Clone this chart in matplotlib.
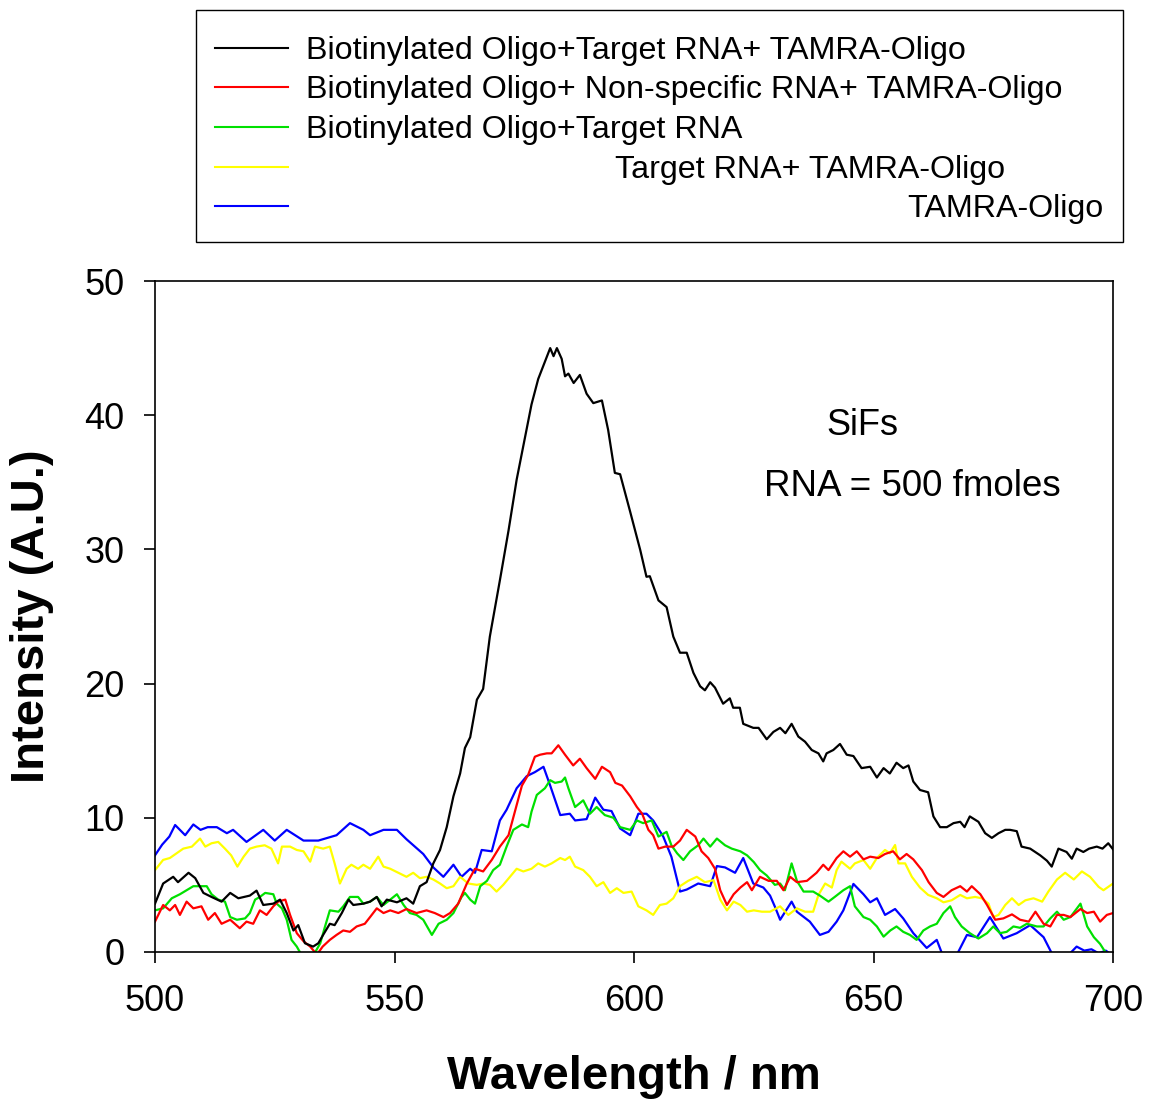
import numpy as np
import matplotlib.pyplot as plt
from matplotlib.lines import Line2D
from matplotlib.patches import Rectangle

plt.rcParams['font.family'] = ['Liberation Sans', 'DejaVu Sans']

# Biotinylated Oligo+Target RNA+ TAMRA-Oligo (black)
bk_x = [500, 501.7, 503.8, 504.8, 507, 508.4, 510.1, 511.8, 513.9, 515.7, 517.4, 519.8, 521.2, 522.6,
        524.7, 526.1, 527.5, 528.9, 529.9, 531.3, 533, 534.1, 535.1, 536.5, 537.5, 539, 540.4, 541.4,
        543.5, 544.9, 546.3, 547.3, 548.4, 550.5, 552.5, 553.9, 555.3, 556.7, 558.1, 559.5, 560.9,
        562.3, 563.7, 564.7, 565.8, 567.2, 568.5, 569.9, 572, 573.8, 575.5, 576.6, 578.6, 580, 581.4,
        582.5, 583.2, 583.9, 584.9, 585.6, 586.3, 587.4, 588.7, 590.1, 591.5, 593.3, 594.6, 596, 597.1,
        599.2, 601.3, 602.6, 603.3, 605.1, 606.8, 608.2, 609.6, 611, 612.4, 613.8, 614.8, 615.9, 616.9,
        618.6, 620, 620.7, 622.1, 622.8, 624.9, 626, 627.7, 629.1, 630.5, 631.6, 632.9, 634.3, 635.7,
        637.1, 638.5, 639.5, 640.2, 641.6, 643, 644.4, 645.8, 647.5, 649.3, 650.7, 652.1, 653.4, 654.8,
        656.2, 657.3, 658.3, 659.7, 661.4, 662.5, 663.9, 665.3, 666.7, 668.1, 669, 670.1, 671.9, 673.3,
        674.7, 676.1, 677.5, 678.5, 679.9, 680.9, 682.7, 684.8, 686.2, 687.2, 688.6, 690.3, 691.4,
        692.4, 693.8, 695, 696.6, 697.8, 699, 700]
bk_y = [3.6, 5.1, 5.6, 5.2, 5.9, 5.5, 4.4, 4.1, 3.75, 4.4, 4.0, 4.2, 4.57, 3.5,
        3.6, 3.9, 2.9, 1.6, 2.0, 0.65, 0.4, 0.65, 1.27, 2.1, 2.0, 2.9, 3.9, 3.5,
        3.6, 3.75, 4.1, 3.4, 3.9, 3.7, 4.0, 3.6, 4.9, 5.2, 6.6, 7.6, 9.3,
        11.6, 13.3, 15.2, 16.0, 18.8, 19.6, 23.5, 27.7, 31.4, 35.2, 37.2, 40.8, 42.7, 44.0,
        45.0, 44.4, 45.0, 44.2, 42.9, 43.1, 42.4, 43.0, 41.6, 40.9, 41.1, 38.9, 35.7, 35.6,
        32.8, 29.95, 27.96, 28.0, 26.2, 25.7, 23.5, 22.3, 22.3, 20.8, 19.8, 19.5, 20.1, 19.7,
        18.5, 18.9, 18.2, 18.2, 17.0, 16.7, 16.7, 15.85, 16.4, 16.7, 16.3, 17.0, 16.05, 15.67,
        15.05, 14.8, 14.2, 14.8, 15.05, 15.5, 14.7, 14.6, 13.7, 13.8, 13.0, 13.7, 13.3, 14.1,
        13.7, 13.9, 12.7, 12.07, 11.9, 10.1, 9.3, 9.3, 9.6, 9.7, 9.3, 10.1, 9.7, 8.85,
        8.5, 8.85, 9.1, 9.1, 9.0, 7.85, 7.7, 7.2, 6.8, 6.36, 7.7, 7.45, 6.95,
        7.7, 7.45, 7.7, 7.85, 7.7, 8.1, 7.65]

# Biotinylated Oligo+ Non-specific RNA+ TAMRA-Oligo (red)
rd_x = [500, 501.7, 503.1, 504.2, 505.2, 506.6, 508, 509.7, 511.1, 512.5, 513.9, 515.7, 517.7, 519.1,
        520.5, 521.9, 523.3, 524.7, 525.7, 527.2, 528.2, 529.6, 531, 532.4, 533.8, 535, 536.5, 537.9,
        539.3, 540.7, 542.1, 543.8, 544.9, 546.3, 547.7, 549.1, 550.8, 552.5, 554.6, 556.7, 558.4,
        560.2, 561.6, 563.3, 565.1, 566.8, 568.5, 570.3, 572, 573.8, 575.5, 576.6, 577.9, 579.3,
        580.4, 581.8, 582.8, 584.2, 585.6, 587.3, 588.7, 590.1, 591.9, 593.3, 595, 596.1, 597.5,
        599.2, 600.6, 601.7, 603, 604, 605.1, 606.5, 608.2, 609.6, 611, 612.8, 614.1, 615.5, 616.9,
        618, 619.4, 620.8, 622.2, 623.6, 624.6, 626.3, 628.1, 629.8, 631.2, 632.6, 634, 636.1, 638.1,
        639.5, 640.6, 642.3, 643.7, 645.1, 646.5, 647.9, 649.3, 651, 652.4, 654.1, 655.5, 656.9,
        658.3, 660.1, 661.5, 663.2, 664.6, 666.3, 668.1, 669.5, 670.5, 672.3, 673.7, 675.4, 677.1,
        678.9, 680.6, 682.4, 683.8, 685.5, 686.9, 688.3, 689.7, 691.1, 693.2, 694.6, 696, 697.3,
        698.7, 700]
rd_y = [2.26, 3.5, 3.1, 3.5, 2.76, 3.75, 3.25, 3.4, 2.4, 2.9, 2.1, 2.4, 1.77, 2.26,
        2.1, 3.1, 2.76, 3.4, 3.75, 3.9, 2.76, 1.4, 0.8, 0.4, -0.2, 0.4, 0.9, 1.27,
        1.6, 1.5, 1.9, 2.1, 2.6, 3.25, 2.9, 3.1, 2.9, 3.2, 2.9, 3.1, 2.9,
        2.6, 2.9, 3.6, 5.1, 6.2, 6.0, 6.86, 7.85, 8.7, 10.95, 12.4, 13.2, 14.55,
        14.7, 14.8, 14.8, 15.4, 14.7, 13.9, 14.4, 13.7, 12.9, 13.8, 13.4, 12.6, 12.4,
        11.6, 10.8, 10.3, 9.1, 8.7, 7.7, 7.85, 7.85, 8.3, 9.1, 8.6, 7.5, 7.0, 6.2,
        4.6, 3.5, 4.3, 4.8, 5.2, 4.6, 5.6, 5.3, 5.3, 4.6, 5.6, 5.2, 5.3, 5.9,
        6.5, 6.1, 7.0, 7.5, 7.1, 7.5, 6.9, 7.1, 7.0, 7.3, 7.5, 6.9, 7.3,
        6.9, 6.1, 5.2, 4.4, 4.1, 4.6, 4.9, 4.5, 4.9, 4.3, 3.5, 2.4, 2.5,
        2.8, 2.4, 2.26, 3.0, 2.1, 1.9, 2.76, 2.76, 2.6, 3.2, 2.9, 3.0, 2.26,
        2.76, 2.9]

# Biotinylated Oligo+Target RNA (green)
gr_x = [500, 501.7, 503.5, 505.2, 506.6, 508, 509.4, 510.8, 511.8, 513.2, 514.6, 515.7, 517.1, 518.8,
        519.8, 520.9, 521.9, 523, 524.7, 525.4, 526.5, 527.5, 528.5, 529.6, 530.7, 533, 534.5, 535.5,
        536.5, 538.3, 539.3, 540.7, 542.4, 543.5, 544.9, 546.3, 547.7, 549.1, 550.5, 551.9, 553.2,
        554.6, 556, 557.8, 559.2, 560.9, 562.3, 564, 564.7, 565.8, 566.8, 567.9, 569.3, 570.6, 572,
        573.4, 574.8, 576.6, 577.9, 578.6, 579.7, 581.4, 582.5, 583.5, 584.9, 585.6, 586.3, 587.7,
        589.4, 590.8, 592.2, 593.9, 595.7, 597.1, 599.2, 600.6, 601.9, 603.7, 605.1, 606.8, 607.8,
        609, 610.3, 611.7, 613.4, 614.5, 615.9, 617.3, 619, 620.4, 622.2, 623.6, 625, 626.3, 627.7,
        629.4, 630.5, 631.5, 632.9, 634, 635.4, 637.4, 638.8, 640.6, 641.9, 643.7, 645.1, 646.1,
        647.9, 649.3, 650.7, 652.1, 653.5, 654.8, 656.2, 657.6, 659, 660.4, 661.8, 663.2, 664.6, 666,
        667, 668.4, 670.1, 671.9, 673.7, 675, 676.4, 677.8, 679.2, 680.6, 682, 684.1, 685.5, 686.9,
        688.3, 689.7, 691.1, 693.2, 694.6, 696, 697.3, 698.1, 699, 700]
gr_y = [3.1, 3.25, 4.0, 4.3, 4.6, 4.9, 4.9, 4.9, 4.3, 3.9, 3.75, 2.6, 2.4, 2.5,
        2.9, 3.9, 4.1, 4.4, 4.3, 3.6, 3.25, 2.4, 0.9, 0.4, -0.3, -0.3, 0.65, 1.9,
        3.1, 3.0, 3.4, 4.1, 4.1, 3.6, 3.75, 4.1, 3.5, 3.9, 4.3, 3.5, 2.9,
        2.76, 2.4, 1.27, 2.1, 2.4, 2.9, 4.1, 4.4, 3.9, 3.6, 4.9, 5.3, 6.1, 6.5,
        7.85, 9.1, 9.5, 9.3, 10.45, 11.7, 12.2, 12.8, 12.6, 12.7, 13.0, 12.2, 10.8,
        11.3, 10.3, 10.8, 10.2, 10.0, 9.3, 9.1, 9.8, 9.6, 9.8, 8.6, 8.95, 7.95,
        7.35, 6.85, 7.5, 7.95, 8.45, 7.85, 8.45, 7.95, 7.7, 7.5, 7.2, 6.7, 6.1, 5.7,
        5.0, 5.1, 4.6, 6.6, 5.3, 4.5, 4.5, 4.2, 3.75, 4.1, 4.6, 4.9, 3.4,
        2.6, 2.4, 1.9, 1.14, 1.6, 1.9, 1.5, 1.27, 0.9, 1.6, 1.9, 2.1, 2.9, 3.4,
        2.6, 1.9, 1.4, 1.0, 1.4, 1.9, 1.4, 1.5, 1.9, 1.8, 2.1, 1.9, 1.9, 2.5,
        3.0, 2.4, 2.6, 3.6, 1.9, 1.1, 0.6, 0.15, -0.3, -0.3]

# Target RNA+ TAMRA-Oligo (yellow)
yl_x = [500, 501.7, 503.1, 504.5, 505.9, 507.7, 509.4, 510.5, 511.8, 513.2, 514.6, 515.9, 517.2, 518.5,
        519.8, 521.2, 522.9, 524.3, 525.7, 526.5, 528.2, 529.6, 531, 532.4, 533.4, 535.1, 536.5,
        537.5, 538.6, 540, 541, 542.4, 543.5, 544.9, 546.6, 547.7, 549.1, 550.8, 552.5, 553.9, 555.3,
        556.7, 558.1, 559.5, 560.9, 562.3, 563.7, 565.4, 567.2, 568.5, 569.9, 571.3, 572.7, 574.1,
        575.5, 576.9, 578.6, 580, 581.4, 582.8, 584.6, 585.6, 586.6, 587.7, 589.4, 590.8, 592.2,
        593.6, 595, 596.4, 597.8, 599.5, 600.9, 602.6, 604, 605.4, 606.8, 608.2, 609.6, 611.3, 613.1,
        614.8, 616.6, 618, 619.4, 620.8, 622.2, 623.6, 625, 626.7, 628.4, 630.5, 632.2, 634, 635.7,
        637.4, 638.5, 639.9, 641.3, 642.3, 643.3, 645.1, 646.1, 647.9, 649.3, 650.7, 652.4, 653.4,
        654.5, 655.2, 656.6, 658, 659.7, 661.4, 663.2, 664.6, 666.3, 668.1, 669.5, 671.2, 672.6, 674,
        675, 676.1, 677.5, 678.9, 680.3, 681.7, 683.4, 685.2, 686.5, 688.3, 690, 691.8, 693.5, 695.2,
        697, 698, 700]
yl_y = [6.1, 6.86, 7.0, 7.35, 7.7, 7.85, 8.45, 7.85, 8.1, 8.2, 7.7, 7.2, 6.36, 7.1,
        7.7, 7.85, 7.95, 7.7, 6.6, 7.85, 7.85, 7.6, 7.5, 6.73, 7.85, 7.7, 7.85,
        6.6, 5.1, 6.2, 6.5, 6.2, 6.5, 6.2, 7.1, 6.36, 6.2, 5.9, 5.6, 5.9, 5.5,
        5.6, 5.4, 5.1, 4.75, 4.9, 5.6, 5.1, 5.0, 5.1, 5.0, 4.5, 5.0, 5.6,
        6.2, 6.0, 6.2, 6.6, 6.36, 6.6, 7.0, 6.85, 7.1, 6.36, 6.1, 5.6, 4.9,
        5.2, 4.4, 4.75, 4.4, 4.5, 3.4, 3.1, 2.76, 3.5, 3.6, 4.0, 4.9, 5.3, 5.6,
        5.2, 5.35, 3.9, 3.1, 3.75, 3.5, 3.0, 3.1, 3.0, 3.0, 3.4, 2.76, 3.25, 3.0,
        3.0, 4.25, 5.1, 4.8, 6.1, 6.73, 6.2, 6.6, 6.85, 6.2, 7.0, 7.6, 7.35,
        7.97, 6.6, 6.6, 5.6, 4.8, 4.25, 4.0, 3.7, 3.85, 4.25, 4.0, 4.1, 4.0, 3.6,
        2.6, 2.76, 3.5, 4.0, 3.5, 3.85, 4.0, 3.75, 4.5, 5.4, 5.9, 5.4, 6.0, 5.6,
        4.85, 4.6, 5.1]

# TAMRA-Oligo (blue)
bl_x = [500, 501.5, 503, 504.2, 506.3, 508, 509.5, 511, 512.9, 515, 516.3, 519.1, 522.6, 525, 527.5,
        531, 534.1, 537.9, 540.7, 543.5, 544.9, 547.7, 550.5, 552.5, 556, 558.1, 560.2, 562.3, 564,
        565.8, 566.8, 568.2, 570.3, 572, 573.4, 575.5, 577.6, 579.3, 581.1, 582.5, 584.6, 586.6,
        587.7, 590.1, 591.9, 593.6, 595.3, 597.1, 599.2, 600.9, 602.6, 604, 606.1, 607.8, 609.6, 611,
        613.4, 615.9, 617.3, 619, 621.1, 622.8, 624.9, 627, 628.4, 629.5, 630.5, 632.9, 634, 636.7,
        638.8, 640.6, 642.3, 643.7, 645.8, 647.9, 649.3, 650.7, 652.4, 654.5, 656.2, 658.3, 661.1,
        663.2, 664.5, 667.4, 669.5, 671.6, 674.3, 677.1, 679.9, 682.7, 685.5, 687.5, 690.5, 692.4,
        694, 695.5, 697, 698.5, 700]
bl_y = [7.2, 8.0, 8.6, 9.46, 8.7, 9.5, 9.1, 9.3, 9.3, 8.85, 9.1, 8.2, 9.1, 8.3, 9.1,
        8.3, 8.3, 8.7, 9.6, 9.1, 8.7, 9.1, 9.1, 8.4, 7.3, 6.3, 5.6, 6.5, 5.6,
        6.2, 5.9, 7.6, 7.5, 9.8, 10.6, 12.2, 13.1, 13.4, 13.8, 12.4, 10.2, 10.3,
        9.8, 9.9, 11.5, 10.6, 10.5, 9.2, 8.7, 10.3, 10.3, 9.8, 8.6, 7.1, 4.5, 4.65,
        5.1, 4.9, 6.4, 6.3, 5.9, 7.0, 5.1, 4.8, 4.2, 3.3, 2.4, 3.75, 3.0, 2.26,
        1.27, 1.5, 2.26, 3.1, 5.07, 4.3, 3.7, 4.0, 2.76, 3.2, 2.5, 1.4, 0.3,
        0.9, -0.3, -0.2, 1.27, 1.1, 2.6, 1.0, 1.4, 2.0, 1.1, -0.3, -0.3, 0.4,
        0.1, 0.2, -0.1, 0.1, -0.3]

labels = ['Biotinylated Oligo+Target RNA+ TAMRA-Oligo',
          'Biotinylated Oligo+ Non-specific RNA+ TAMRA-Oligo',
          'Biotinylated Oligo+Target RNA',
          'Target RNA+ TAMRA-Oligo',
          'TAMRA-Oligo']
colors = ['#000000', '#ff0000', '#00e000', '#ffff00', '#0000ff']

fig = plt.figure(figsize=(11.49, 10.99), dpi=100)
ax = fig.add_axes([0.1349, 0.1338, 0.8338, 0.6105])

series = [(bk_x, bk_y), (rd_x, rd_y), (gr_x, gr_y), (yl_x, yl_y), (bl_x, bl_y)]
# draw back to front like the original (black on top)
for (x, y), c in list(zip(series, colors))[::-1]:
    ax.plot(x, y, color=c, lw=1.6)

ax.set_xlim(500, 700)
ax.set_ylim(0, 50)
ax.set_xticks([500, 550, 600, 650, 700])
ax.set_yticks([0, 10, 20, 30, 40, 50])
ax.tick_params(direction='out', length=8, width=1.2, labelsize=26, top=False, right=False)
ax.tick_params(axis='x', pad=15)
ax.tick_params(axis='y', pad=14)
for s in ax.spines.values():
    s.set_linewidth(1.2)

ax.set_xlabel('Wavelength / nm', fontsize=34, fontweight='bold', labelpad=26)
ax.set_ylabel('Intensity (A.U.)', fontsize=34, fontweight='bold', labelpad=22)

ax.text(647.6, 39.2, 'SiFs', fontsize=26, ha='center', va='center')
ax.text(658.2, 34.7, 'RNA = 500 fmoles', fontsize=26.5, ha='center', va='center')

# legend box drawn by hand (SigmaPlot-style spacing)
fig.add_artist(Rectangle((0.1706, 0.7798), 0.8068, 0.2111, transform=fig.transFigure,
                         fill=False, ec='black', lw=1.0))
rows = [0.9563, 0.9208, 0.8844, 0.8480, 0.8126]
text_x = [0.2663, 0.2663, 0.2663, 0.5352, 0.7894]
for yy, tx, lab, c in zip(rows, text_x, labels, colors):
    fig.add_artist(Line2D([0.1871, 0.2507], [yy, yy], transform=fig.transFigure, color=c, lw=1.5))
    fig.text(tx, yy - 0.0025, lab, fontsize=23.2, ha='left', va='center')

fig.savefig('out.png', dpi=100)
